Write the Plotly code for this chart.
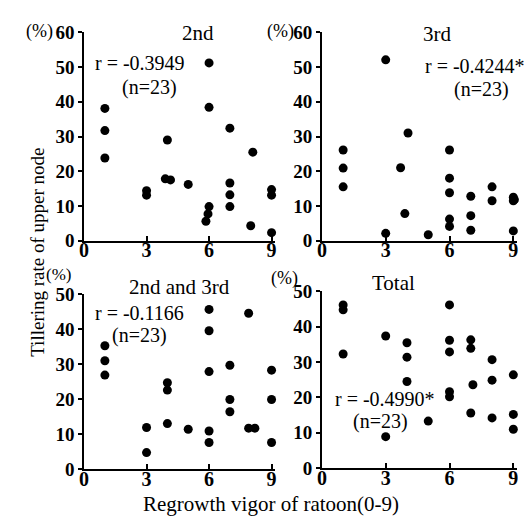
import plotly.graph_objects as go

W, H = 532, 520

# ---- data ----
x_2nd = [1, 1, 1, 3, 3, 4, 3.9, 4.15, 5, 6, 6, 6, 5.95, 5.85, 7, 7, 7, 7, 8.1, 8, 9, 9, 9]
y_2nd = [38.1, 31.7, 23.8, 14.4, 13.1, 29, 17.8, 17.5, 16.2, 51.2, 38.4, 9.8, 7.7, 5.6,
         32.4, 16.6, 13.2, 9.8, 25.5, 4.3, 14.7, 13.1, 2.3]

x_3rd = [1, 1, 1, 3, 3, 3.7, 4.05, 3.9, 5, 6, 6, 6, 6, 6, 7, 7, 7, 8, 8, 9, 9, 9.05, 9]
y_3rd = [26.1, 20.9, 15.5, 52.1, 2.1, 21, 31, 7.8, 1.7, 26.1, 18, 13.8, 6.2, 4.1,
         12.8, 7.2, 3, 15.5, 11.5, 12.5, 11.5, 11.8, 2.8]

x_23 = [1, 1, 1, 3, 3, 4, 4, 4, 5, 6, 6, 6, 6, 6, 7, 7, 7, 7.9, 7.9, 8.2, 9, 9, 9]
y_23 = [35.3, 31, 26.9, 11.9, 4.7, 24.7, 22.6, 13, 11.4, 45.7, 39.6, 27.9, 10.9, 7.6,
        29.7, 19.9, 16.4, 44.6, 11.7, 11.7, 28.3, 19.9, 7.6]

x_tot = [1, 1, 1, 3, 3, 4, 4, 4, 5, 6, 6, 6, 6, 6, 7, 7, 7.1, 7, 8, 8, 8, 9, 9, 9]
y_tot = [46.2, 44.8, 32.3, 37.4, 8.9, 35.5, 31.4, 24.5, 13.3, 46.2, 36.2, 32.9, 21.6, 20.2,
         36.3, 33.9, 23.6, 15.6, 30.7, 24.9, 14.2, 26.4, 15.2, 11]

x_ticks = [0, 3, 6, 9]
y_ticks_top = [0, 10, 20, 30, 40, 50, 60]
y_ticks_bot = [0, 10, 20, 30, 40, 50]

panel_titles = ["2nd", "3rd", "2nd and 3rd", "Total"]
r_texts = ["r = -0.3949", "r = -0.4244*", "r = -0.1166", "r = -0.4990*"]
n_text = "(n=23)"
x_title = "Regrowth vigor of ratoon(0-9)"
y_title = "Tillering rate of upper node"

FONT = "Liberation Serif"

# pixel layout: (x of y-axis, x pixel of value 9, y pixel of 0, y pixel of top tick, top value)
panels = [
    (x_2nd, y_2nd, 72, 262, 232, 15, 60, y_ticks_top),
    (x_3rd, y_3rd, 313, 507, 232, 15, 60, y_ticks_top),
    (x_23, y_23, 72, 262, 470, 288, 50, y_ticks_bot),
    (x_tot, y_tot, 313, 507, 469, 285, 50, y_ticks_bot),
]

fig = go.Figure()
XMAX = 9.15
layout = {}
for i, (xs, ys, px0, px9, py0, pytop, ytop, yt) in enumerate(panels):
    k = "" if i == 0 else str(i + 1)
    per = (px9 - px0) / 9.0
    xr = px0 + per * XMAX
    fig.add_trace(go.Scatter(
        x=xs, y=ys, mode="markers",
        marker=dict(color="black", size=9, line=dict(width=0)),
        xaxis="x" + k, yaxis="y" + k, cliponaxis=False, showlegend=False,
    ))
    layout["xaxis" + k] = dict(
        domain=[px0 / W, xr / W], range=[0, XMAX], anchor="y" + k,
        tickvals=x_ticks, ticks="inside", ticklen=5, tickwidth=1.5, tickcolor="black",
        showline=True, linecolor="black", linewidth=1.6, showgrid=False, zeroline=False,
        tickfont=dict(family=FONT, size=20, color="black", weight="bold"),
        ticklabelstandoff=-9, fixedrange=True,
    )
    layout["yaxis" + k] = dict(
        domain=[1 - py0 / H, 1 - pytop / H], range=[0, ytop], anchor="x" + k,
        tickvals=yt, ticks="outside", ticklen=4, tickwidth=1.5, tickcolor="black",
        showline=True, linecolor="black", linewidth=1.6, showgrid=False, zeroline=False,
        tickfont=dict(family=FONT, size=19, color="black", weight="bold"), fixedrange=True,
    )

fig.update_layout(**layout)


def ann(text, px, py, size=21, **kw):
    d = dict(text=text, x=px / W, y=1 - py / H, xref="paper", yref="paper",
             xanchor="center", yanchor="middle", showarrow=False,
             font=dict(family=FONT, size=size, color="black"))
    d.update(kw)
    return d


annotations = [
    ann("(%)", 27, 14, 18),
    ann(panel_titles[0], 187, 16),
    ann(r_texts[0], 129, 47, 20),
    ann(n_text, 138, 72, 20),
    ann("(%)", 271, 14, 18),
    ann(panel_titles[1], 430, 17),
    ann(r_texts[1], 468, 50, 20),
    ann(n_text, 475, 74, 20),
    ann("(%)", 46, 267, 17),
    ann(panel_titles[2], 169, 280),
    ann(r_texts[2], 128, 307, 20),
    ann(n_text, 128, 331, 20),
    ann("(%)", 275, 271, 18),
    ann(panel_titles[3], 386, 276),
    ann(r_texts[3], 377, 397, 20),
    ann(n_text, 372, 421, 20),
    ann(x_title, 261, 506),
    ann(y_title, 24, 244, 19, textangle=-90),
]

fig.update_layout(
    width=W, height=H, margin=dict(l=0, r=0, t=0, b=0),
    paper_bgcolor="white", plot_bgcolor="white",
    annotations=annotations,
)

fig.write_html("out.html")
